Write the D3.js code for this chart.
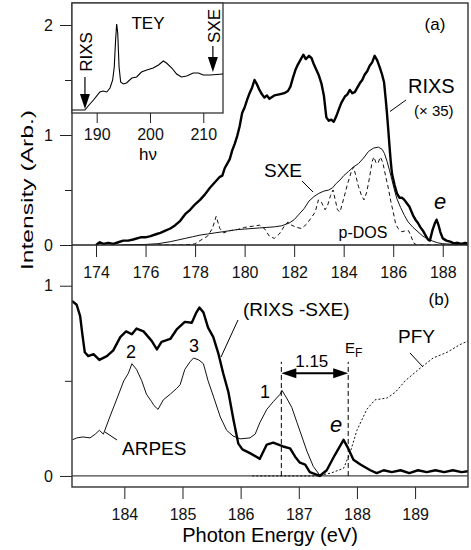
<!DOCTYPE html>
<html><head><meta charset="utf-8">
<script src="https://cdn.jsdelivr.net/npm/d3@7"></script>
<style>
body{margin:0;background:#fff;}
svg{display:block;font-family:"Liberation Sans",Arial,sans-serif;}
</style></head>
<body>
<svg id="c" width="471" height="550"></svg>
<script>
// ---- Panel (a) data: [photon energy (eV), intensity] ----
const rixsA = [[174.0,0.00],[174.15,0.025],[174.3,0.01],[174.5,0.02],[174.7,0.01],[174.9,0.025],[175.1,0.04],[175.3,0.04],[175.5,0.05],[175.8,0.07],[176.0,0.07],[176.2,0.08],[176.45,0.10],[176.6,0.11],[176.8,0.13],[177.0,0.15],[177.2,0.18],[177.4,0.22],[177.6,0.28],[177.8,0.32],[178.0,0.37],[178.2,0.41],[178.4,0.46],[178.6,0.52],[178.8,0.57],[179.0,0.62],[179.1,0.63],[179.2,0.70],[179.3,0.74],[179.4,0.78],[179.5,0.86],[179.6,0.92],[179.7,0.99],[179.8,1.08],[179.9,1.20],[180.0,1.25],[180.1,1.32],[180.2,1.38],[180.3,1.43],[180.4,1.50],[180.5,1.46],[180.6,1.41],[180.7,1.37],[180.8,1.34],[180.9,1.36],[181.0,1.33],[181.2,1.36],[181.4,1.37],[181.6,1.38],[181.75,1.40],[181.85,1.44],[181.95,1.52],[182.05,1.59],[182.15,1.64],[182.25,1.68],[182.37,1.73],[182.47,1.69],[182.6,1.72],[182.7,1.70],[182.8,1.64],[182.9,1.59],[183.0,1.54],[183.1,1.47],[183.2,1.36],[183.25,1.26],[183.3,1.16],[183.4,1.13],[183.5,1.14],[183.6,1.12],[183.7,1.17],[183.8,1.23],[183.9,1.29],[184.05,1.35],[184.15,1.37],[184.25,1.41],[184.35,1.38],[184.45,1.39],[184.55,1.43],[184.65,1.47],[184.75,1.50],[184.85,1.55],[184.95,1.58],[185.05,1.63],[185.15,1.66],[185.25,1.72],[185.35,1.68],[185.45,1.62],[185.55,1.55],[185.63,1.48],[185.7,1.32],[185.74,1.22],[185.8,1.05],[185.85,0.90],[185.9,0.76],[185.95,0.65],[186.05,0.55],[186.15,0.47],[186.25,0.43],[186.35,0.43],[186.45,0.41],[186.55,0.38],[186.65,0.35],[186.8,0.27],[186.9,0.23],[187.0,0.20],[187.1,0.16],[187.2,0.13],[187.3,0.09],[187.4,0.05],[187.48,0.04],[187.58,0.13],[187.67,0.19],[187.75,0.23],[187.83,0.18],[187.9,0.12],[188.0,0.06],[188.15,0.04],[188.3,0.03],[188.45,0.015],[188.6,0.02],[188.75,0.01],[188.9,0.02],[189.0,0.015]];
const sxeA = [[175.0,0.00],[175.5,0.003],[176.0,0.005],[176.5,0.012],[177.0,0.03],[177.3,0.045],[177.6,0.06],[177.9,0.075],[178.2,0.09],[178.5,0.10],[178.8,0.11],[179.1,0.12],[179.4,0.13],[179.7,0.14],[180.0,0.145],[180.3,0.15],[180.6,0.155],[180.9,0.16],[181.2,0.165],[181.5,0.175],[181.8,0.20],[182.0,0.23],[182.2,0.28],[182.4,0.33],[182.6,0.40],[182.8,0.44],[183.0,0.47],[183.2,0.49],[183.4,0.50],[183.55,0.52],[183.7,0.56],[183.85,0.59],[184.0,0.63],[184.2,0.67],[184.4,0.71],[184.6,0.74],[184.8,0.79],[185.0,0.85],[185.2,0.88],[185.4,0.89],[185.55,0.87],[185.65,0.83],[185.75,0.76],[185.85,0.68],[185.95,0.59],[186.05,0.50],[186.15,0.42],[186.3,0.34],[186.45,0.27],[186.6,0.21],[186.8,0.16],[187.0,0.12],[187.2,0.08],[187.4,0.055],[187.6,0.035],[187.8,0.02],[188.0,0.012],[188.5,0.005],[189.0,0.003]];
const pdosA = [[176.5,0.0],[177.5,0.0],[178.0,0.01],[178.2,0.04],[178.5,0.08],[178.7,0.15],[178.85,0.26],[179.0,0.15],[179.15,0.11],[179.4,0.13],[179.7,0.14],[180.0,0.16],[180.3,0.17],[180.6,0.18],[180.8,0.15],[181.0,0.08],[181.2,0.06],[181.4,0.10],[181.6,0.17],[181.75,0.21],[181.9,0.18],[182.1,0.16],[182.3,0.15],[182.5,0.19],[182.7,0.25],[182.85,0.30],[182.98,0.41],[183.1,0.39],[183.25,0.32],[183.35,0.36],[183.47,0.45],[183.57,0.50],[183.65,0.42],[183.75,0.32],[183.85,0.30],[184.0,0.42],[184.15,0.55],[184.3,0.66],[184.4,0.71],[184.5,0.62],[184.6,0.53],[184.72,0.45],[184.82,0.41],[184.93,0.48],[185.05,0.62],[185.15,0.76],[185.22,0.80],[185.3,0.75],[185.38,0.74],[185.48,0.80],[185.58,0.75],[185.7,0.62],[185.8,0.52],[185.9,0.40],[186.0,0.30],[186.1,0.19],[186.2,0.15],[186.35,0.12],[186.5,0.13],[186.62,0.13],[186.72,0.08],[186.82,0.02],[186.95,0.0],[188.0,0.0],[189.0,0.0]];
// inset TEY: [hν, intensity]
const tey = [[185.4,0.03],[187.8,0.03],[188.4,0.07],[189.4,0.13],[190.6,0.21],[191.2,0.22],[191.9,0.21],[192.5,0.25],[193.0,0.33],[193.3,0.46],[193.55,0.73],[193.75,0.89],[193.95,0.80],[194.2,0.46],[194.5,0.31],[195.0,0.29],[195.6,0.30],[196.6,0.35],[197.5,0.36],[198.4,0.41],[199.4,0.43],[200.6,0.45],[201.6,0.48],[202.5,0.52],[203.1,0.50],[204.1,0.45],[205.0,0.39],[205.9,0.36],[206.9,0.37],[208.1,0.40],[209.1,0.40],[210.0,0.38],[211.3,0.38],[213.7,0.39]];
// ---- Panel (b) data ----
const rixsMinusSxe = [[183.10,0.92],[183.18,0.90],[183.24,0.84],[183.28,0.74],[183.32,0.65],[183.38,0.63],[183.47,0.64],[183.57,0.61],[183.7,0.63],[183.81,0.66],[183.93,0.73],[184.03,0.76],[184.13,0.745],[184.21,0.775],[184.33,0.76],[184.47,0.71],[184.56,0.665],[184.64,0.705],[184.79,0.72],[184.9,0.77],[185.04,0.81],[185.16,0.805],[185.24,0.86],[185.29,0.885],[185.36,0.86],[185.44,0.78],[185.53,0.73],[185.62,0.64],[185.7,0.54],[185.79,0.44],[185.88,0.29],[185.96,0.17],[186.03,0.14],[186.16,0.12],[186.33,0.09],[186.45,0.165],[186.56,0.175],[186.73,0.155],[186.85,0.145],[186.94,0.10],[187.02,0.07],[187.11,0.06],[187.19,0.02],[187.36,0.0],[187.48,0.03],[187.62,0.11],[187.77,0.19],[187.85,0.145],[187.94,0.085],[188.06,0.06],[188.23,0.03],[188.34,0.015],[188.46,0.03],[188.6,0.02],[188.75,0.03],[188.9,0.015],[189.05,0.03],[189.2,0.02],[189.35,0.03],[189.5,0.02],[189.65,0.03],[189.8,0.02],[189.91,0.025]];
const arpes = [[183.11,0.19],[183.18,0.20],[183.29,0.205],[183.41,0.20],[183.5,0.22],[183.57,0.24],[183.64,0.22],[183.75,0.31],[183.89,0.42],[183.99,0.50],[184.07,0.54],[184.13,0.59],[184.21,0.56],[184.3,0.50],[184.38,0.43],[184.47,0.39],[184.51,0.37],[184.58,0.35],[184.67,0.40],[184.79,0.43],[184.9,0.46],[184.96,0.48],[185.04,0.56],[185.13,0.60],[185.19,0.62],[185.28,0.61],[185.36,0.59],[185.44,0.50],[185.53,0.42],[185.65,0.31],[185.76,0.24],[185.87,0.21],[185.99,0.195],[186.16,0.20],[186.25,0.22],[186.33,0.28],[186.45,0.35],[186.56,0.39],[186.68,0.43],[186.71,0.45],[186.79,0.41],[186.88,0.36],[186.97,0.28],[187.05,0.21],[187.14,0.13],[187.25,0.05],[187.37,0.0]];
const pfy = [[186.2,0.0],[186.8,0.0],[187.3,0.0],[187.55,0.015],[187.77,0.04],[187.88,0.12],[188.0,0.24],[188.17,0.35],[188.31,0.40],[188.52,0.41],[188.66,0.44],[188.83,0.50],[189.06,0.56],[189.31,0.62],[189.55,0.65],[189.77,0.69],[189.91,0.71]];
const ticksTopX = [174,176,178,180,182,184,186,188];
const ticksTopY = [0,1,2];
const minorTopY = [0.5,1.5];
const ticksInsetX = [190,200,210];
const ticksBotX = [184,185,186,187,188,189];
const ticksBotY = [0,1];
const minorBotY = [0.5];
const peak1 = 186.7, fermi = 187.85, gapLabel = "1.15";

const svg = d3.select("#c");
const L = 72, R = 468;
const xa = d3.scaleLinear().domain([173.03,189.02]).range([L,R]);
const ya = d3.scaleLinear().domain([0,2.2]).range([245,3]);
const xi = d3.scaleLinear().domain([185.37,213.7]).range([72,223]);
const yi = d3.scaleLinear().domain([0,1.1]).range([113,3]);
const xb = d3.scaleLinear().domain([183.10,189.91]).range([L,R]);
const yb = d3.scaleLinear().domain([-0.058,1.214]).range([487,245]);

const defs = svg.append("defs");
defs.append("clipPath").attr("id","ca").append("rect").attr("x",L).attr("y",3).attr("width",R-L).attr("height",242);
defs.append("clipPath").attr("id","cb").append("rect").attr("x",L).attr("y",245).attr("width",R-L).attr("height",242);
defs.append("clipPath").attr("id","ci").append("rect").attr("x",72).attr("y",3).attr("width",151).attr("height",110);

const lineA = d3.line().x(d=>xa(d[0])).y(d=>ya(d[1]));
const lineB = d3.line().x(d=>xb(d[0])).y(d=>yb(d[1]));
const lineI = d3.line().x(d=>xi(d[0])).y(d=>yi(d[1]));
const FS = 16;

function styleAxis(g){ g.select(".domain").remove(); g.selectAll("line").attr("stroke","#222"); g.selectAll("text").attr("font-size",FS).attr("fill","#111").attr("font-family","Liberation Sans, Arial, sans-serif"); }

// ---------- Panel (a) ----------
const ga = svg.append("g");
ga.append("g").attr("transform","translate(0,245)").call(d3.axisBottom(xa).tickValues(ticksTopX).tickSize(12).tickPadding(10).tickFormat(d3.format("d"))).call(styleAxis);
ga.append("g").attr("transform",`translate(${L},0)`).call(d3.axisLeft(ya).tickValues(ticksTopY).tickSize(12).tickPadding(7).tickFormat(d3.format("d"))).call(styleAxis);
ga.append("g").attr("transform",`translate(${L},0)`).call(d3.axisLeft(ya).tickValues(minorTopY).tickSize(7).tickFormat("")).call(styleAxis);

const pa = ga.append("g").attr("clip-path","url(#ca)");
pa.append("path").datum(pdosA).attr("d",lineA).attr("fill","none").attr("stroke","#111").attr("stroke-width",1).attr("stroke-dasharray","4,3");
pa.append("path").datum(sxeA).attr("d",lineA).attr("fill","none").attr("stroke","#111").attr("stroke-width",1);
pa.append("path").datum(rixsA).attr("d",lineA).attr("fill","none").attr("stroke","#000").attr("stroke-width",2.4).attr("stroke-linejoin","round");

// labels panel a
ga.append("text").attr("x",435).attr("y",30).attr("text-anchor","middle").attr("font-size",17).text("(a)");
ga.append("text").attr("x",408).attr("y",93).attr("font-size",20).text("RIXS");
ga.append("text").attr("x",414).attr("y",116).attr("font-size",15).text("(\u00d7 35)");
ga.append("line").attr("x1",406).attr("y1",100).attr("x2",390).attr("y2",111.5).attr("stroke","#000").attr("stroke-width",1);
ga.append("text").attr("x",302).attr("y",177).attr("text-anchor","end").attr("font-size",19).text("SXE");
ga.append("line").attr("x1",302).attr("y1",181).attr("x2",313).attr("y2",192).attr("stroke","#000").attr("stroke-width",1);
ga.append("text").attr("x",363).attr("y",238).attr("text-anchor","middle").attr("font-size",16).text("p-DOS");
ga.append("text").attr("x",440).attr("y",209).attr("text-anchor","middle").attr("font-size",22).attr("font-style","italic").text("e");

// ---------- Inset ----------
const gi = svg.append("g");
gi.append("rect").attr("x",72).attr("y",3).attr("width",151).attr("height",110).attr("fill","#fff").attr("stroke","#333").attr("stroke-width",1.3);
gi.append("g").attr("transform","translate(0,113)").call(d3.axisBottom(xi).tickValues(ticksInsetX).tickSize(10).tickPadding(6).tickFormat(d3.format("d"))).call(styleAxis);
gi.append("path").datum(tey).attr("clip-path","url(#ci)").attr("d",lineI).attr("fill","none").attr("stroke","#000").attr("stroke-width",1.1);
gi.append("text").attr("x",148).attr("y",160).attr("text-anchor","middle").attr("font-size",17).text("h\u03bd");
gi.append("text").attr("x",148).attr("y",29).attr("text-anchor","middle").attr("font-size",17).text("TEY");
function arrowDown(g,x,y1,y2){
  g.append("line").attr("x1",x).attr("y1",y1).attr("x2",x).attr("y2",y2-12).attr("stroke","#000").attr("stroke-width",1.2);
  g.append("path").attr("d",`M${x-5},${y2-15}L${x+5},${y2-15}L${x},${y2}Z`).attr("fill","#000");
}
arrowDown(gi, xi(187.8), 77, 109);
arrowDown(gi, xi(211.8), 46, 72);
gi.append("text").attr("transform",`translate(${xi(187.8)+1},52) rotate(-90)`).attr("text-anchor","middle").attr("dy","0.36em").attr("font-size",17).text("RIXS");
gi.append("text").attr("transform",`translate(${xi(211.8)+1},26) rotate(-90)`).attr("text-anchor","middle").attr("dy","0.36em").attr("font-size",17).text("SXE");

// ---------- Panel (b) ----------
const gb = svg.append("g");
gb.append("g").attr("transform","translate(0,487)").call(d3.axisBottom(xb).tickValues(ticksBotX).tickSize(12).tickPadding(10).tickFormat(d3.format("d"))).call(styleAxis);
gb.append("g").attr("transform",`translate(${L},0)`).call(d3.axisLeft(yb).tickValues(ticksBotY).tickSize(12).tickPadding(7).tickFormat(d3.format("d"))).call(styleAxis);
gb.append("g").attr("transform",`translate(${L},0)`).call(d3.axisLeft(yb).tickValues(minorBotY).tickSize(7).tickFormat("")).call(styleAxis);
gb.append("line").attr("x1",L).attr("x2",R).attr("y1",yb(0)).attr("y2",yb(0)).attr("stroke","#444").attr("stroke-width",1.2);

const pb = gb.append("g").attr("clip-path","url(#cb)");
pb.append("path").datum(pfy).attr("d",lineB).attr("fill","none").attr("stroke","#111").attr("stroke-width",1).attr("stroke-dasharray","2,2");
pb.append("path").datum(arpes).attr("d",lineB).attr("fill","none").attr("stroke","#111").attr("stroke-width",1);
pb.append("path").datum(rixsMinusSxe).attr("d",lineB).attr("fill","none").attr("stroke","#000").attr("stroke-width",2.4).attr("stroke-linejoin","round");

// dashed markers and gap arrow
[peak1,fermi].forEach(e=>{
  gb.append("line").attr("x1",xb(e)).attr("x2",xb(e)).attr("y1",yb(0)).attr("y2",yb(0.6)).attr("stroke","#000").attr("stroke-width",1).attr("stroke-dasharray","5,3");
});
const ay = yb(0.54), x1 = xb(peak1), x2 = xb(fermi);
gb.append("line").attr("x1",x1+12).attr("x2",x2-12).attr("y1",ay).attr("y2",ay).attr("stroke","#000").attr("stroke-width",2);
gb.append("path").attr("d",`M${x1},${ay}L${x1+15},${ay-5}L${x1+15},${ay+5}Z`).attr("fill","#000");
gb.append("path").attr("d",`M${x2},${ay}L${x2-15},${ay-5}L${x2-15},${ay+5}Z`).attr("fill","#000");
gb.append("text").attr("x",(x1+x2)/2-3).attr("y",367).attr("text-anchor","middle").attr("font-size",17).text(gapLabel);
const ef = gb.append("text").attr("x",345).attr("y",353).attr("font-size",15);
ef.append("tspan").text("E");
ef.append("tspan").attr("font-size",12).attr("dy",4).text("F");

gb.append("text").attr("x",439).attr("y",305).attr("text-anchor","middle").attr("font-size",17).text("(b)");
gb.append("text").attr("x",243).attr("y",316).attr("font-size",19).text("(RIXS -SXE)");
gb.append("line").attr("x1",238).attr("y1",320).attr("x2",221).attr("y2",357).attr("stroke","#000").attr("stroke-width",1);
gb.append("text").attr("x",398).attr("y",343).attr("font-size",19).text("PFY");
gb.append("line").attr("x1",410).attr("y1",353).attr("x2",423).attr("y2",367).attr("stroke","#000").attr("stroke-width",1);
gb.append("text").attr("x",122).attr("y",455).attr("font-size",19).text("ARPES");
gb.append("line").attr("x1",105).attr("y1",432).attr("x2",117).attr("y2",440).attr("stroke","#000").attr("stroke-width",1);
gb.append("text").attr("x",131).attr("y",358).attr("text-anchor","middle").attr("font-size",18).text("2");
gb.append("text").attr("x",194).attr("y",352).attr("text-anchor","middle").attr("font-size",18).text("3");
gb.append("text").attr("x",265).attr("y",398).attr("text-anchor","middle").attr("font-size",18).text("1");
gb.append("text").attr("x",336).attr("y",432).attr("text-anchor","middle").attr("font-size",22).attr("font-style","italic").text("e");

// ---------- Frame ----------
svg.append("rect").attr("x",L).attr("y",3).attr("width",R-L).attr("height",484).attr("fill","none").attr("stroke","#333").attr("stroke-width",1.4);
svg.append("line").attr("x1",L).attr("x2",R).attr("y1",245).attr("y2",245).attr("stroke","#222").attr("stroke-width",1.4);
gi.raise();

// axis titles
svg.append("text").attr("x",270).attr("y",542).attr("text-anchor","middle").attr("font-size",20).text("Photon Energy (eV)");
svg.append("text").attr("transform","translate(27,190) rotate(-90)").attr("text-anchor","middle").attr("dy","0.36em").attr("font-size",17).attr("textLength",160).attr("lengthAdjust","spacingAndGlyphs").text("Intensity (Arb.)");
</script>
</body></html>
